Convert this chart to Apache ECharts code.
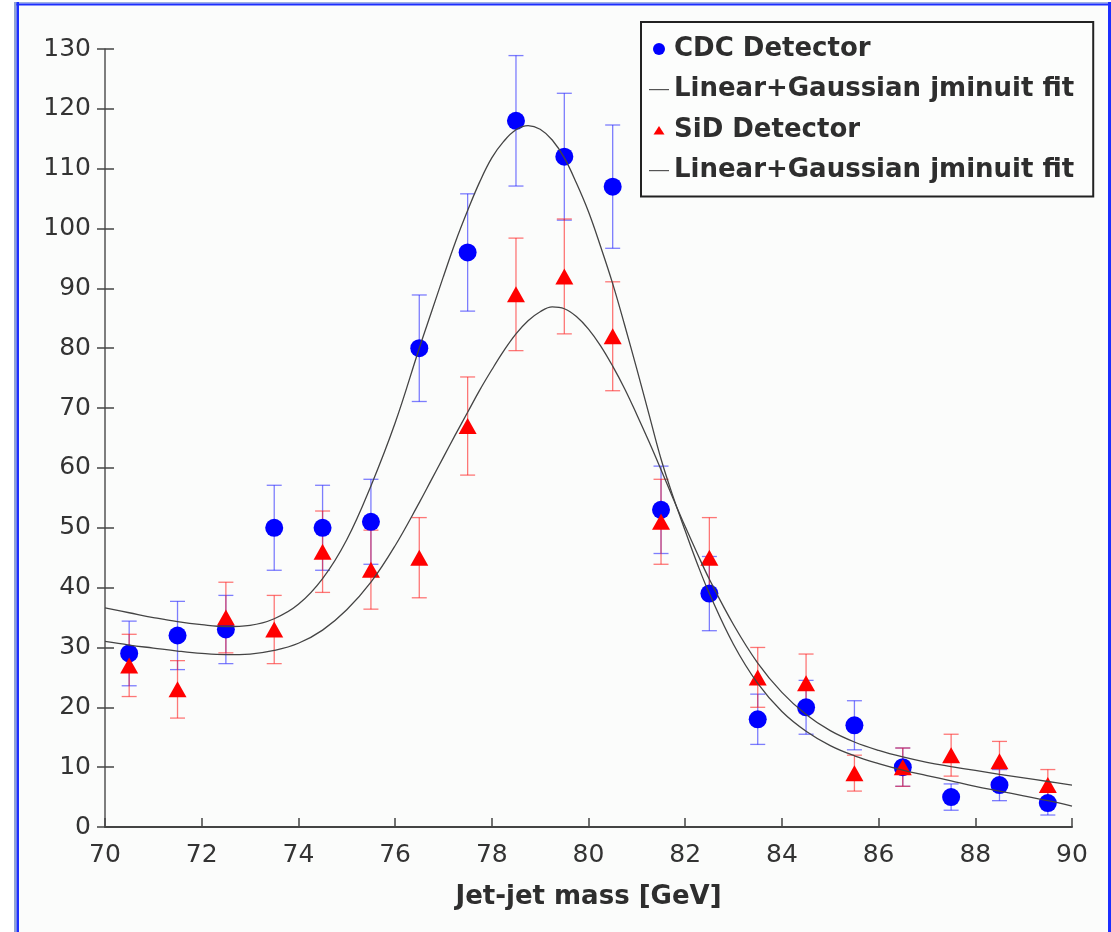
<!DOCTYPE html>
<html>
<head>
<meta charset="utf-8">
<title>Jet-jet mass</title>
<script src="https://cdn.jsdelivr.net/npm/echarts@6/dist/echarts.min.js"></script>
<style>
  html, body { margin: 0; padding: 0; background: #ffffff; }
  #chart { width: 1111px; height: 932px; }
</style>
</head>
<body>
<div id="chart"></div>
<script>
// bin centres (GeV)
const massBins = [70.5, 71.5, 72.5, 73.5, 74.5, 75.5, 76.5, 77.5, 78.5, 79.5,
  80.5, 81.5, 82.5, 83.5, 84.5, 85.5, 86.5, 87.5, 88.5, 89.5]

// CDC detector counts and error half-widths
const cdcCounts = [29, 32, 33, 50, 50, 51, 80, 96, 118, 112, 107, 53, 39, 18, 20, 17, 10, 5, 7, 4]
const cdcErrors = [5.4, 5.7, 5.7, 7.1, 7.1, 7.1, 8.9, 9.8, 10.9, 10.6, 10.3, 7.3, 6.2, 4.2, 4.5, 4.1, 3.2, 2.2, 2.6, 2.0]

// SiD detector counts and error half-widths
const sidCounts = [27, 23, 35, 33, 46, 43, 45, 67, 89, 92, 82, 51, 45, 25, 24, 9, 10, 12, 11, 7]
const sidErrors = [5.2, 4.8, 5.9, 5.7, 6.8, 6.6, 6.7, 8.2, 9.4, 9.6, 9.1, 7.1, 6.7, 5.0, 4.9, 3.0, 3.2, 3.5, 3.3, 2.6]

// fit curves (finer steps around the peak)
const fitMass = [70, 70.5, 71, 71.5, 72, 72.5, 73, 73.5, 74, 74.5, 75, 75.5, 76,
  76.5, 76.75, 77, 77.25, 77.5, 77.75, 78, 78.25, 78.5, 78.75, 79, 79.25, 79.5, 79.75,
  80, 80.25, 80.5, 80.75, 81, 81.25, 81.5, 81.75, 82, 82.25, 82.5,
  83, 83.5, 84, 84.5, 85, 85.5, 86, 86.5, 87, 87.5, 88, 88.5, 89, 89.5, 90]
const cdcFit = [36.6, 35.8, 35.0, 34.3, 33.8, 33.5, 33.7, 34.8, 37.2, 41.5, 48.0, 57.0, 67.5,
  80.0, 86.0, 92.0, 97.8, 103.0, 107.8, 111.8, 114.6, 116.5, 117.2, 116.6, 114.8, 111.8, 107.6,
  102.8, 97.0, 90.8, 83.8, 76.5, 69.0, 61.5, 55.2, 49.5, 44.0, 39.0,
  30.5, 24.0, 19.3, 16.0, 13.6, 11.9, 10.6, 9.5, 8.6, 7.7, 6.8, 6.0, 5.2, 4.4, 3.5]
const sidFit = [31.0, 30.4, 29.9, 29.4, 29.0, 28.8, 28.9, 29.5, 30.7, 32.9, 36.3, 40.9, 47.0,
  54.2, 58.0, 61.8, 65.6, 69.3, 73.0, 76.4, 79.6, 82.4, 84.6, 86.1, 86.9, 86.6, 85.3,
  83.2, 80.4, 77.0, 73.2, 68.9, 64.4, 59.7, 54.9, 50.2, 45.7, 41.4,
  33.8, 27.4, 22.5, 18.8, 16.1, 14.2, 12.8, 11.7, 10.8, 10.1, 9.45, 8.8, 8.2, 7.6, 7.0]

const xTicks = { min: 70, max: 90, interval: 2 }
const yTicks = { min: 0, max: 130, interval: 10 }

const fitName = 'Linear+Gaussian jminuit fit'
const labelFont = 'DejaVu Sans'

// legend icons (padded boxes so the symbols stay small)
const lineIcon = 'path://M0,0M20,12M0,5.5L20,5.5L20,6.7L0,6.7Z'
const triIcon = 'path://M0,0M20,12M10,2L15.5,10.5L4.5,10.5Z'

function pairs(xs, ys) {
  return xs.map((x, i) => [x, ys[i]])
}

function errorRows(values, errors) {
  return massBins.map((x, i) => [x, values[i] - errors[i], values[i] + errors[i]])
}

function errorBar(color) {
  return function(params, api) {
    const x = api.value(0)
    const lo = api.coord([x, api.value(1)])
    const hi = api.coord([x, api.value(2)])
    const w = 7.5
    const style = { stroke: color, lineWidth: 1.3 }
    return {
      type: 'group',
      children: [
        { type: 'line', shape: { x1: lo[0], y1: lo[1], x2: hi[0], y2: hi[1] }, style: style },
        { type: 'line', shape: { x1: lo[0] - w, y1: lo[1], x2: lo[0] + w, y2: lo[1] }, style: style },
        { type: 'line', shape: { x1: hi[0] - w, y1: hi[1], x2: hi[0] + w, y2: hi[1] }, style: style }
      ]
    }
  }
}

const chart = echarts.init(document.getElementById('chart'))

chart.setOption({
  animation: false,
  backgroundColor: '#fbfcfb',
  grid: { left: 105, right: 39, top: 49, bottom: 105, containLabel: false, outerBoundsMode: 'none' },
  graphic: [
    // window frame
    { type: 'rect', shape: { x: 0, y: 0, width: 14, height: 932 }, style: { fill: '#ffffff' }, silent: true },
    { type: 'rect', shape: { x: 0, y: 0, width: 1111, height: 2 }, style: { fill: '#ffffff' }, silent: true },
    { type: 'rect', shape: { x: 14, y: 2, width: 1097, height: 1.5 }, style: { fill: '#9db1e2' }, silent: true },
    { type: 'rect', shape: { x: 14, y: 3.5, width: 1097, height: 2 }, style: { fill: '#1c2eff' }, silent: true },
    { type: 'rect', shape: { x: 14, y: 2, width: 2.5, height: 930 }, style: { fill: '#8fa3d4' }, silent: true },
    { type: 'rect', shape: { x: 16.5, y: 2, width: 2.5, height: 930 }, style: { fill: '#1c2eff' }, silent: true },
    { type: 'rect', shape: { x: 1108, y: 2, width: 3, height: 930 }, style: { fill: '#1c2eff' }, silent: true }
  ],
  legend: {
    orient: 'vertical',
    left: 641,
    top: 22,
    padding: [14, 10, 13, 8],
    itemGap: 14.5,
    itemWidth: 20,
    itemHeight: 12,
    backgroundColor: '#fcfdfc',
    borderColor: '#222222',
    borderWidth: 2,
    selectedMode: false,
    textStyle: {
      fontFamily: labelFont,
      fontWeight: 'bold',
      fontSize: 26,
      lineHeight: 26,
      color: '#2e2e2e'
    },
    data: [
      { name: 'CDC Detector', icon: 'circle' },
      { name: fitName, icon: lineIcon },
      { name: 'SiD Detector', icon: triIcon },
      { name: fitName + ' ', icon: lineIcon }
    ]
  },
  xAxis: {
    type: 'value',
    min: xTicks.min,
    max: xTicks.max,
    interval: xTicks.interval,
    name: 'Jet-jet mass [GeV]',
    nameLocation: 'middle',
    nameGap: 57,
    nameTextStyle: { fontFamily: labelFont, fontWeight: 'bold', fontSize: 26, color: '#2e2e2e' },
    axisLine: { lineStyle: { color: '#444444', width: 2 } },
    axisTick: { inside: true, length: 9, lineStyle: { color: '#444444', width: 1.5 } },
    axisLabel: { margin: 16, fontFamily: labelFont, fontSize: 25, color: '#333333' },
    splitLine: { show: false }
  },
  yAxis: [
    {
      type: 'value',
      position: 'left',
      min: yTicks.min,
      max: yTicks.max,
      interval: yTicks.interval,
      axisLine: { show: true, lineStyle: { color: '#555555', width: 1.5 } },
      axisTick: { show: true, inside: true, length: 9, lineStyle: { color: '#444444', width: 1.5 } },
      axisLabel: { margin: 14, fontFamily: labelFont, fontSize: 25, color: '#333333' },
      splitLine: { show: false }
    },
    {
      // outer half of the crossing ticks
      type: 'value',
      position: 'left',
      min: yTicks.min,
      max: yTicks.max,
      interval: yTicks.interval,
      axisLine: { show: false },
      axisTick: { show: true, inside: false, length: 8, lineStyle: { color: '#444444', width: 1.5 } },
      axisLabel: { show: false },
      splitLine: { show: false }
    }
  ],
  series: [
    {
      name: 'CDC errors',
      type: 'custom',
      renderItem: errorBar('rgba(40, 40, 255, 0.6)'),
      data: errorRows(cdcCounts, cdcErrors),
      encode: { x: 0, y: [1, 2] },
      silent: true
    },
    {
      name: 'CDC Detector',
      type: 'scatter',
      symbol: 'circle',
      symbolSize: 18,
      itemStyle: { color: '#0000ff', opacity: 1 },
      data: pairs(massBins, cdcCounts)
    },
    {
      name: 'SiD errors',
      type: 'custom',
      renderItem: errorBar('rgba(255, 30, 30, 0.6)'),
      data: errorRows(sidCounts, sidErrors),
      encode: { x: 0, y: [1, 2] },
      silent: true
    },
    {
      name: 'SiD Detector',
      type: 'scatter',
      symbol: 'triangle',
      symbolSize: [18, 16],
      itemStyle: { color: '#ff0000', opacity: 1 },
      data: pairs(massBins, sidCounts)
    },
    {
      name: fitName,
      type: 'line',
      smooth: 0.4,
      showSymbol: false,
      symbol: 'none',
      color: '#555555',
      lineStyle: { color: '#444444', width: 1.3 },
      data: pairs(fitMass, cdcFit)
    },
    {
      name: fitName + ' ',
      type: 'line',
      smooth: 0.4,
      showSymbol: false,
      symbol: 'none',
      color: '#555555',
      lineStyle: { color: '#444444', width: 1.3 },
      data: pairs(fitMass, sidFit)
    }
  ]
})
</script>
</body>
</html>
